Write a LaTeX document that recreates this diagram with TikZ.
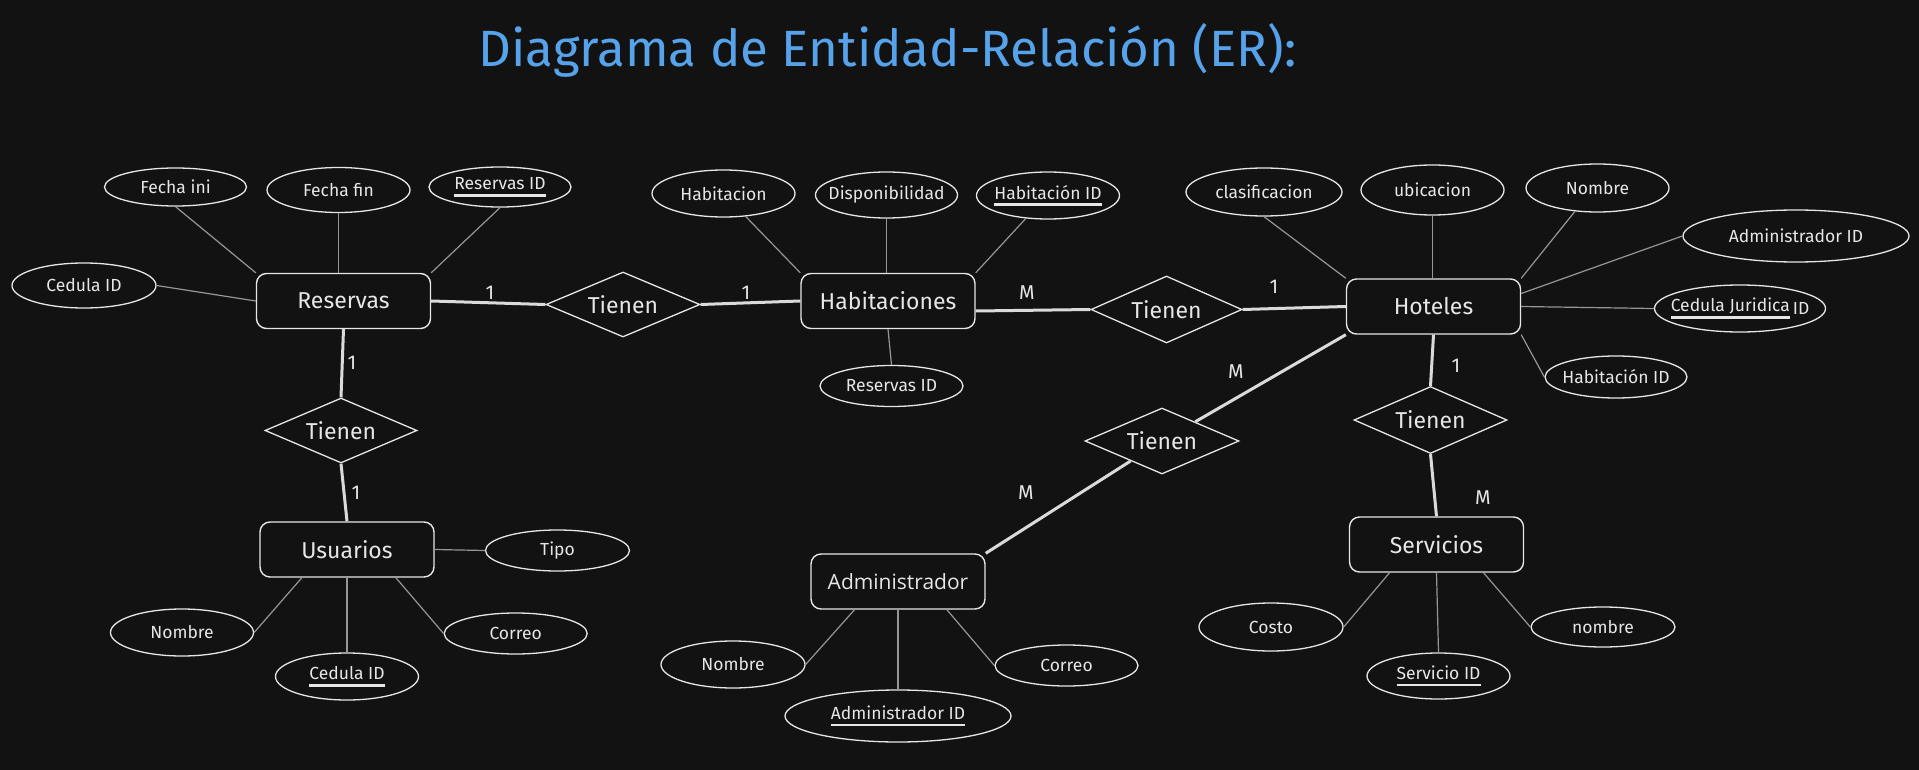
\documentclass[tikz,border=0pt]{standalone}
\usepackage{fontspec}
\setmainfont{Fira Sans}
\newfontfamily\admfont{Open Sans}
\usetikzlibrary{shapes.geometric}
\definecolor{bgc}{HTML}{121212}
\definecolor{fg}{HTML}{E6E6E6}
\definecolor{attrline}{HTML}{969696}
\definecolor{relline}{HTML}{DADADA}
\definecolor{titlec}{HTML}{56A3EC}
\newcommand\zt[1]{\makebox[0pt]{#1}}
\newcommand\myul[1]{\setbox0\hbox{#1}\leavevmode\rlap{\raisebox{-7pt}{\color{fg}\rule{\wd0}{2.6pt}}}\usebox0}
\tikzset{
  ent/.style={draw=fg, line width=1.4pt, rounded corners=10pt, fill=bgc, minimum width=174pt, minimum height=55pt, inner sep=0pt, text=fg, font=\fontsize{23}{27}\selectfont},
  attr/.style={draw=fg, line width=1.3pt, ellipse, fill=bgc, minimum width=143pt, minimum height=44pt, inner sep=0pt, text=fg, font=\fontsize{17.5}{21}\selectfont},
  rel/.style={draw=fg, line width=1.3pt, diamond, fill=bgc, minimum width=153pt, minimum height=66pt, inner sep=0pt, text=fg, font=\fontsize{23}{27}\selectfont},
  aline/.style={draw=attrline, line width=1.2pt},
  rline/.style={draw=relline, line width=3pt},
  card/.style={text=fg, font=\fontsize{20}{24}\selectfont, inner sep=0pt}
}
\begin{document}
\begin{tikzpicture}[x=1pt,y=-1pt]
\fill[bgc] (0,0) rectangle (1919,770);
\useasboundingbox (0,0) rectangle (1919,770);

\node[text=titlec, font=\fontsize{51}{60}\selectfont, anchor=base, inner sep=0pt] (title) at (887.5,67) {Diagrama de Entidad-Relación (ER):};

% entities
\node[ent] (res) at (343.5,301) {Reservas};
\node[ent] (hb) at (888,301) {Habitaciones};
\node[ent] (ho) at (1433.5,306.5) {Hoteles};
\node[ent] (us) at (347,549.5) {Usuarios};
\node[ent, font=\admfont\fontsize{21}{25}\selectfont] (adm) at (898,581.5) {Administrador};
\node[ent] (sv) at (1436.5,544.5) {Servicios};

% relationships
\node[rel, minimum width=154pt, minimum height=65pt] (t1) at (623,304.5) {\zt{Tienen}};
\node[rel, minimum width=151pt, minimum height=67pt] (t2) at (1166.5,309.5) {\zt{Tienen}};
\node[rel, minimum width=154pt, minimum height=66pt] (t3) at (1162,441) {\zt{Tienen}};
\node[rel, minimum width=153pt, minimum height=67pt] (t4) at (1430.5,420) {\zt{Tienen}};
\node[rel, minimum width=152pt, minimum height=65pt] (tl) at (341,430.5) {\zt{Tienen}};

% attributes
\node[attr, minimum width=142pt, minimum height=38pt] (fi) at (175.5,187) {\zt{Fecha ini}};
\node[attr, minimum width=143pt, minimum height=45pt] (ff) at (338.5,190) {\zt{Fecha fin}};
\node[attr, minimum width=142pt, minimum height=40pt] (rid) at (500,187) {\zt{\myul{Reservas ID}}};
\node[attr, minimum width=144pt, minimum height=45pt] (ced) at (84,285.5) {\zt{Cedula ID}};
\node[attr, minimum width=143pt, minimum height=47pt] (hab) at (723.5,193.5) {\zt{Habitacion}};
\node[attr, minimum width=142pt, minimum height=46pt] (disp) at (886.5,195) {\zt{Disponibilidad}};
\node[attr, minimum width=143pt, minimum height=47pt] (hid) at (1048,195.5) {\zt{\myul{Habitación ID}}};
\node[attr, minimum width=143pt, minimum height=41pt] (rid2) at (891.5,386) {\zt{Reservas ID}};
\node[attr, minimum width=156pt, minimum height=48pt] (cla) at (1264,192) {\zt{clasificacion}};
\node[attr, minimum width=143pt, minimum height=50pt] (ub) at (1432.5,190) {\zt{ubicacion}};
\node[attr, minimum width=143pt, minimum height=48pt] (hn) at (1597.5,188) {\zt{Nombre}};
\node[attr, minimum width=226pt, minimum height=52pt] (aid) at (1796,236) {\zt{Administrador ID}};
\node[attr, minimum width=171pt, minimum height=47pt] (cj) at (1740,308.5) {\zt{\myul{Cedula Juridica}\,\raisebox{-3pt}{ID}}};
\node[attr, minimum width=142pt, minimum height=42pt] (hid2) at (1616,377) {\zt{Habitación ID}};
\node[attr, minimum width=144pt, minimum height=48pt] (co) at (1271,627) {\zt{Costo}};
\node[attr, minimum width=143pt, minimum height=46pt] (sid) at (1438.5,676) {\zt{\myul{Servicio ID}}};
\node[attr, minimum width=144pt, minimum height=40pt] (nm) at (1603,627) {\zt{nombre}};
\node[attr, minimum width=144pt, minimum height=47pt] (an) at (733,664.5) {\zt{Nombre}};
\node[attr, minimum width=226pt, minimum height=52pt] (aid2) at (898,716) {\zt{\myul{Administrador ID}}};
\node[attr, minimum width=143pt, minimum height=41pt] (ac) at (1066.5,665.5) {\zt{Correo}};
\node[attr, minimum width=144pt, minimum height=41pt] (tipo) at (557.5,550.5) {\zt{Tipo}};
\node[attr, minimum width=143pt, minimum height=47pt] (un) at (182,632.5) {\zt{Nombre}};
\node[attr, minimum width=143pt, minimum height=47pt] (uc) at (347,676.5) {\zt{\myul{Cedula ID}}};
\node[attr, minimum width=143pt, minimum height=41pt] (uco) at (515.7,633.5) {\zt{Correo}};

% attribute connectors
\draw[aline] (fi.south) -- (res.north west);
\draw[aline] (ff.south) -- (ff.south |- res.north);
\draw[aline] (rid.south) -- (res.north east);
\draw[aline] (ced.east) -- (res.west);
\draw[aline] (hab.-46) -- (hb.north west);
\draw[aline] (disp.south) -- (disp.south |- hb.north);
\draw[aline] (hid.-134) -- (hb.north east);
\draw[aline] (hb.south) -- (rid2.north);
\draw[aline] (cla.south) -- (ho.north west);
\draw[aline] (ub.south) -- (ub.south |- ho.north);
\draw[aline] (hn.-134) -- (ho.north east);
\draw[aline] ([yshift=13pt]ho.east) -- (aid.west);
\draw[aline] (ho.east) -- (cj.west);
\draw[aline] (ho.south east) -- (hid2.west);
\draw[aline] (sv.-149) -- (co.east);
\draw[aline] (sv.south) -- (sid.north);
\draw[aline] (sv.-31) -- (nm.west);
\draw[aline] (adm.-147) -- (an.east);
\draw[aline] (adm.south) -- (aid2.north);
\draw[aline] (adm.-30) -- (ac.west);
\draw[aline] (us.east) -- (tipo.west);
\draw[aline] (us.-148) -- (un.east);
\draw[aline] (us.south) -- (uc.north);
\draw[aline] (us.-30) -- (uco.west);

% relationship connectors
\draw[rline] (res.east) -- (t1.west);
\draw[rline] (t1.east) -- (hb.west);
\draw[rline] ([yshift=-10pt]hb.east) -- (t2.west);
\draw[rline] (t2.east) -- (ho.west);
\draw[rline] (ho.south west) -- (t3);
\draw[rline] (t3) -- (adm.north east);
\draw[rline] (ho.south) -- (t4.north);
\draw[rline] (t4.south) -- (sv.north);
\draw[rline] (res.south) -- (tl.north);
\draw[rline] (tl.south) -- (us.north);

% cardinalities
\node[card] (c1) at (490,293) {1};
\node[card] (c2) at (746,293) {1};
\node[card] (c3) at (1027,293) {M};
\node[card] (c4) at (1274,287) {1};
\node[card] (c5) at (1236,372) {M};
\node[card] (c6) at (1026,493) {M};
\node[card] (c7) at (1456,366) {1};
\node[card] (c8) at (1483,498) {M};
\node[card] (c9) at (352,363) {1};
\node[card] (c10) at (356,493) {1};
\end{tikzpicture}
\end{document}
